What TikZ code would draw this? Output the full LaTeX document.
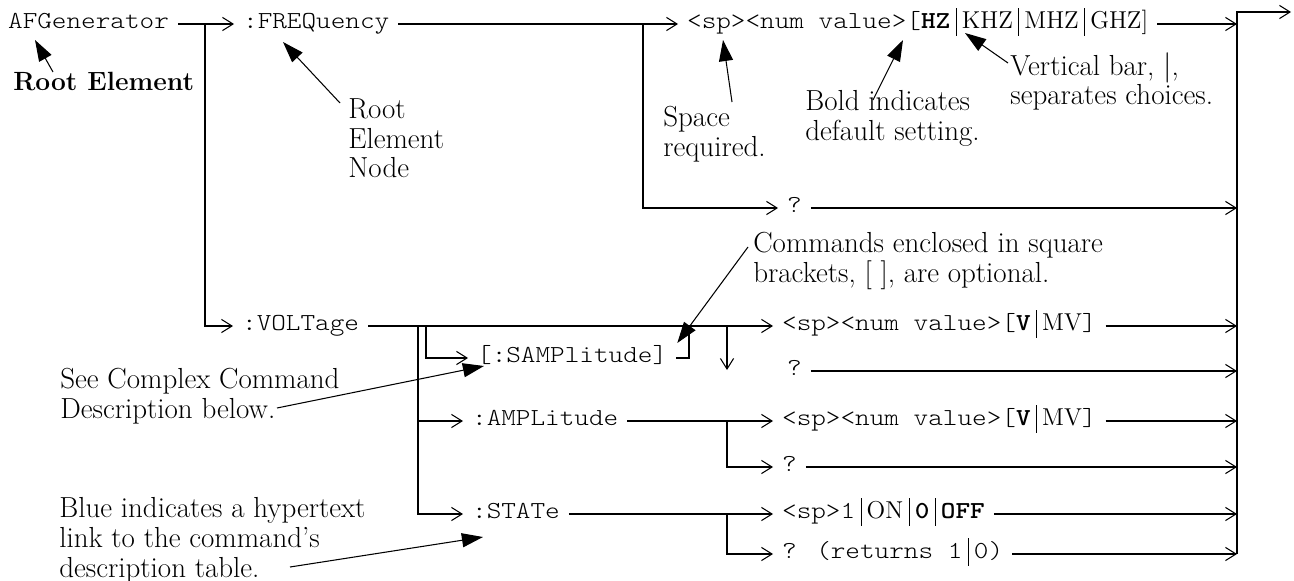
\documentclass[tikz,border=0pt]{standalone}
\usepackage{fontspec}
\newfontfamily\cmdmono{lmmonolt10-regular}[Extension=.otf,FakeStretch=1.14,BoldFont=lmmonolt10-bold]
\usepackage{tikz}
\usetikzlibrary{arrows.meta,calc,positioning}
\newcommand{\cmdfont}{\cmdmono\fontsize{13.9}{16}\selectfont}
\newcommand{\notefont}{\rmfamily\fontsize{16.5}{17}\selectfont}
\newcommand{\vsep}{\hspace{3pt}\rule[-4pt]{0.55pt}{16pt}\hspace{3pt}}

\begin{document}
\begin{tikzpicture}[x=0.02cm,y=-0.02cm,
	cmd/.style={font=\cmdfont,anchor=west,inner xsep=5pt,inner ysep=0pt,text height=7pt,text depth=1.4pt},
	note/.style={font=\notefont,anchor=north west,align=left,inner sep=0pt},
	wire/.style={line width=1.1pt},
	flow/.style={wire,-{Straight Barb[length=6pt,width=7.5pt,line width=0.6pt]}},
	callout/.style={line width=0.6pt,-{Triangle[length=12pt,width=8pt]}}]
	\useasboundingbox (0,0) rectangle (1294,581);
	\node[cmd] (afg) at (-1,24) {AFGenerator};
	\node[cmd] (freq) at (234,24) {:FREQuency};
	\node[cmd] (hz) at (678,24) {<sp><num value>[\textbf{HZ}\vsep{\rmfamily KHZ\vsep MHZ\vsep GHZ]}};
	\node[cmd] (fq) at (778,208) {?};
	\node[cmd] (volt) at (233,326) {:VOLTage};
	\node[cmd] (samp) at (468,358) {[:SAMPlitude]};
	\node[cmd] (vval) at (773,326) {<sp><num value>[\textbf{V}\vsep{\rmfamily MV}]};
	\node[cmd] (vq) at (778,371) {?};
	\node[cmd] (ampl) at (463,421) {:AMPLitude};
	\node[cmd] (aval) at (773,421) {<sp><num value>[\textbf{V}\vsep{\rmfamily MV}]};
	\node[cmd] (aq) at (773,467) {?};
	\node[cmd] (stat) at (463,514) {:STATe};
	\node[cmd] (sval) at (773,514) {<sp>1\vsep{\rmfamily ON}\vsep\textbf{0}\vsep\textbf{OFF}};
	\node[cmd] (sq) at (773,554) {? (returns 1\vsep 0)};

	\coordinate (j0) at (205,24);
	\coordinate (j1) at (643,24);
	\coordinate (jv1) at (418,326);
	\coordinate (jv2) at (426,326);
	\coordinate (jv3) at (689,326);
	\coordinate (jv4) at (727,326);
	\coordinate (vdn) at (727,370);
	\coordinate (ja) at (727,421);
	\coordinate (js) at (727,514);
	\coordinate (busT) at (1237,12);
	\coordinate (busB) at (1237,554);
	\coordinate (exit) at (1291,12);

	\draw[flow] (afg.east) -- (freq.west);
	\draw[flow] (j0) |- (volt.west);
	\draw[flow] (freq.east) -- (hz.west);
	\draw[flow] (j1) |- (fq.west);
	\draw[flow] (volt.east) -- (vval.west);
	\draw[flow] (jv1) |- (ampl.west);
	\draw[flow] (jv1) |- (stat.west);
	\draw[flow] (jv2) |- (samp.west);
	\draw[wire] (samp.east) -| (jv3);
	\draw[flow] (jv4) -- (vdn);
	\draw[flow] (ampl.east) -- (aval.west);
	\draw[flow] (ja) |- (aq.west);
	\draw[flow] (stat.east) -- (sval.west);
	\draw[flow] (js) |- (sq.west);
	\foreach \n in {hz,fq,vval,vq,aval,aq,sval,sq}
		\draw[flow] (\n.east) -- (\n.east -| busT);
	\draw[flow] (busB) -- (busT) -- (exit);

	\node[note,font=\rmfamily\fontsize{15}{17}\selectfont\bfseries] (rootlbl) at (13,72) {Root Element};
	\node[note] (nodelbl) at (348,98) {Root\\Element\\Node};
	\node[note] (spacelbl) at (663,106) {Space\\required.};
	\node[note] (boldlbl) at (805,90) {Bold indicates\\default setting.};
	\node[note] (barlbl) at (1010,52) {Vertical bar, $|$,\\separates choices.};
	\node[note] (optlbl) at (753,232) {Commands enclosed in square\\brackets, [ ], are optional.};
	\node[note] (cplxlbl) at (60,368) {See Complex Command\\Description below.};
	\node[note] (bluelbl) at (59,497) {Blue indicates a hypertext\\link to the command's\\description table.};

	\draw[callout] ($(rootlbl.north west)+(40,0)$) -- ($(afg.west)+(36,16)$);
	\draw[callout] ($(nodelbl.north west)+(-8,5)$) -- ($(freq.west)+(49,18)$);
	\draw[callout] ($(spacelbl.north west)+(69,-4)$) -- ($(hz.west)+(45,16)$);
	\draw[callout] ($(boldlbl.north west)+(68,10)$) -- ($(hz.west)+(225,16)$);
	\draw[callout] ($(barlbl.north west)+(-2,11)$) -- ($(hz.west)+(287,9)$);
	\draw[callout] ($(optlbl.north west)+(-5,15)$) -- ($(samp.east)+(1,-15)$);
	\draw[callout] ($(cplxlbl.north west)+(217,40)$) -- ($(samp.west)+(16,8)$);
	\draw[callout] ($(bluelbl.north west)+(231,70)$) -- ($(stat.west)+(20,23)$);
\end{tikzpicture}
\end{document}
